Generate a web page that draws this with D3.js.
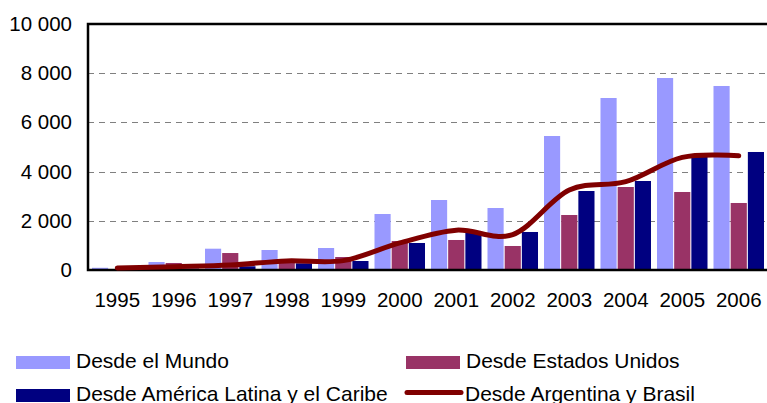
<!DOCTYPE html>
<meta charset="utf-8">
<style>
body {
    margin: 0;
    background: #fff;
}
svg {
    display: block;
    font-family: "Liberation Sans", Arial, sans-serif;
}
.grid line {
    stroke: #808080;
    stroke-dasharray: 6 5;
    shape-rendering: crispEdges;
}
</style>

<body>
    <div id="chart-container"></div>
    <script src="https://cdnjs.cloudflare.com/ajax/libs/d3/7.8.5/d3.min.js"></script>
    <script>
    // data
    var years = ["1995", "1996", "1997", "1998", "1999", "2000", "2001", "2002", "2003", "2004", "2005", "2006"];
    var mundo = [90, 325, 866, 813, 894, 2276, 2845, 2520, 5447, 6992, 7805, 7480];
    var estadosUnidos = [40, 285, 690, 390, 528, 1179, 1220, 976, 2236, 3374, 3171, 2724];
    var americaLatina = [20, 60, 150, 272, 366, 1098, 1517, 1545, 3211, 3618, 4593, 4797];
    var argentinaBrasil = [80, 135, 200, 370, 380, 1100, 1620, 1440, 3250, 3590, 4580, 4640];
    var yTicks = [0, 2000, 4000, 6000, 8000, 10000];

    var barSeries = [
        { name: "Desde el Mundo", values: mundo, color: "#9999ff" },
        { name: "Desde Estados Unidos", values: estadosUnidos, color: "#993366" },
        { name: "Desde América Latina y el Caribe", values: americaLatina, color: "#000080" }
    ];
    var lineColor = "#800000";

    // plot box (window.top is reserved, so the names are prefixed)
    var width = 767,
        height = 403,
        plotLeft = 88,
        plotRight = 768,
        plotTop = 24,
        plotBottom = 270;

    var svg = d3.select("#chart-container").append("svg")
        .attr("width", width)
        .attr("height", height);

    var x0 = d3.scaleBand()
        .domain(years)
        .range([89, 767])
        .paddingInner(0.106)
        .paddingOuter(0.053);

    var x1 = d3.scaleBand()
        .domain(d3.range(barSeries.length))
        .range([0, x0.bandwidth()])
        .paddingInner(0.06);

    var y = d3.scaleLinear()
        .domain([0, 10000])
        .range([plotBottom, plotTop]);

    // dashed grid lines
    svg.append("g")
        .attr("class", "grid")
        .selectAll("line")
        .data(yTicks.filter(function(d) { return d > 0 && d < 10000; }))
        .enter().append("line")
        .attr("x1", plotLeft)
        .attr("x2", plotRight)
        .attr("y1", function(d) { return Math.round(y(d)) + 0.5; })
        .attr("y2", function(d) { return Math.round(y(d)) + 0.5; });

    // bars
    var groups = svg.append("g")
        .selectAll("g")
        .data(years)
        .enter().append("g")
        .attr("transform", function(d) { return "translate(" + x0(d) + ",0)"; });

    groups.selectAll("rect")
        .data(function(d, i) {
            return barSeries.map(function(s, j) { return { j: j, v: s.values[i], color: s.color }; });
        })
        .enter().append("rect")
        .attr("x", function(d) { return x1(d.j); })
        .attr("width", x1.bandwidth())
        .attr("y", function(d) { return y(d.v); })
        .attr("height", function(d) { return plotBottom - y(d.v); })
        .attr("fill", function(d) { return d.color; });

    // frame: top border, left and bottom axis
    svg.append("path")
        .attr("d", "M" + plotRight + "," + plotTop + "H" + plotLeft + "V" + plotBottom + "H" + plotRight)
        .attr("fill", "none")
        .attr("stroke", "#000")
        .attr("stroke-width", 2.5);

    // smoothed line
    var line = d3.line()
        .x(function(d, i) { return x0(years[i]) + x0.bandwidth() / 2; })
        .y(function(d) { return y(d); })
        .curve(d3.curveCatmullRom.alpha(0));

    svg.append("path")
        .datum(argentinaBrasil)
        .attr("d", line)
        .attr("fill", "none")
        .attr("stroke", lineColor)
        .attr("stroke-width", 5)
        .attr("stroke-linecap", "round");

    // y axis labels
    var yAxis = d3.axisLeft(y)
        .tickValues(yTicks)
        .tickSize(0)
        .tickPadding(16)
        .tickFormat(function(d) { return d3.format(",")(d).replace(",", " "); });

    var gY = svg.append("g")
        .attr("transform", "translate(" + plotLeft + ",0)")
        .call(yAxis);
    gY.select(".domain").remove();
    gY.selectAll("text")
        .attr("font-size", 20.5)
        .attr("font-family", null)
        .attr("fill", "#000");

    // x axis labels
    var xAxis = d3.axisBottom(x0)
        .tickSize(0)
        .tickPadding(22);

    var gX = svg.append("g")
        .attr("transform", "translate(0," + plotBottom + ")")
        .call(xAxis);
    gX.select(".domain").remove();
    gX.selectAll("text")
        .attr("font-size", 20.5)
        .attr("font-family", null)
        .attr("fill", "#000");

    // legend
    var legendItems = [
        { name: barSeries[0].name, color: barSeries[0].color, x: 16, y: 356, kind: "bar" },
        { name: barSeries[1].name, color: barSeries[1].color, x: 406, y: 356, kind: "bar" },
        { name: barSeries[2].name, color: barSeries[2].color, x: 16, y: 389, kind: "bar" },
        { name: "Desde Argentina y Brasil", color: lineColor, x: 406, y: 389, kind: "line" }
    ];

    var legend = svg.append("g")
        .selectAll("g")
        .data(legendItems)
        .enter().append("g")
        .attr("transform", function(d) { return "translate(" + d.x + "," + d.y + ")"; });

    legend.filter(function(d) { return d.kind === "bar"; })
        .append("rect")
        .attr("width", 54)
        .attr("height", 13)
        .attr("fill", function(d) { return d.color; });

    legend.filter(function(d) { return d.kind === "line"; })
        .append("line")
        .attr("x1", 1)
        .attr("x2", 55)
        .attr("y1", 3.5)
        .attr("y2", 3.5)
        .attr("stroke", function(d) { return d.color; })
        .attr("stroke-width", 5)
        .attr("stroke-linecap", "round");

    legend.append("text")
        .attr("x", function(d) { return d.kind === "line" ? 59 : 60; })
        .attr("y", 12)
        .attr("font-size", 21)
        .attr("fill", "#000")
        .text(function(d) { return d.name; });
    </script>
</body>

</html>
